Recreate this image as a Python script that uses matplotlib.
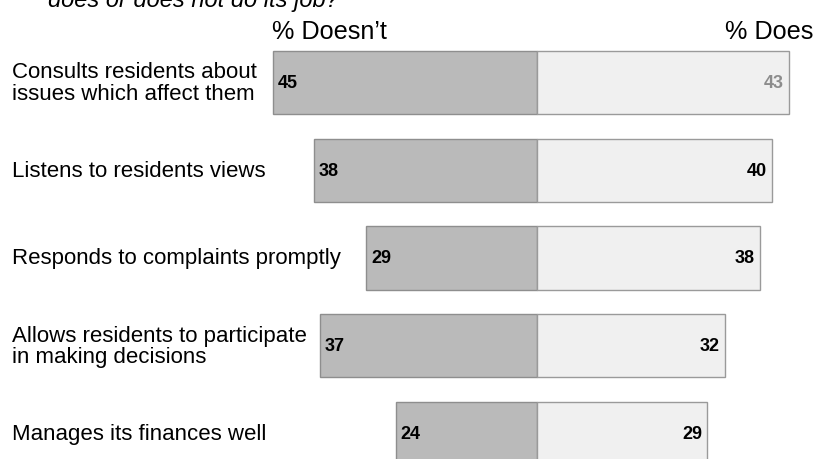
import matplotlib
matplotlib.use("Agg")
import matplotlib.pyplot as plt
from matplotlib.transforms import blended_transform_factory

plt.rcParams['font.family'] = ['Liberation Sans', 'DejaVu Sans']

categories = [
    "Consults residents about\nissues which affect them",
    "Listens to residents views",
    "Responds to complaints promptly",
    "Allows residents to participate\nin making decisions",
    "Manages its finances well",
]
doesnt = [45, 38, 29, 37, 24]
does = [43, 40, 38, 32, 29]
does_label_colors = ["#8c8c8c", "black", "black", "black", "black"]

W, H = 816, 460
fig = plt.figure(figsize=(W / 100, H / 100), dpi=100)
ax = fig.add_axes([0, 0, 1, 1])

# scale: 0 at x=536.7 px, 5.87 px per percentage point
px_per_unit = 5.87
x0 = 536.7
ax.set_xlim(-x0 / px_per_unit, (W - x0) / px_per_unit)
pitch = 87.8
y_first = 83.4
ax.set_ylim((H - y_first) / pitch, -y_first / pitch)
ax.axis("off")

ypos = list(range(len(categories)))
bar_h = 0.72
ax.barh(ypos, [-v for v in doesnt], height=bar_h, color="#bababa",
        edgecolor="#8e8e8e", linewidth=1.0)
ax.barh(ypos, does, height=bar_h, color="#f0f0f0",
        edgecolor="#9a9a9a", linewidth=1.0)

pad = 5.0 / px_per_unit
for y, a, b, c in zip(ypos, doesnt, does, does_label_colors):
    ax.text(-a + pad, y, str(a), ha="left", va="center", fontsize=13,
            fontweight="bold", color="black")
    ax.text(b - pad, y, str(b), ha="right", va="center", fontsize=13,
            fontweight="bold", color=c)

lab_tr = blended_transform_factory(fig.transFigure, ax.transData)
for y, lab in zip(ypos, categories):
    ax.text(12 / W, y, lab, transform=lab_tr, ha="left", va="center",
            fontsize=16, linespacing=1.02, color="black")

fig.text(272 / W, 1 - 39 / H, "% Doesn\u2019t", ha="left", va="baseline",
         fontsize=18.2, color="black")
fig.text(813 / W, 1 - 39 / H, "% Does", ha="right", va="baseline",
         fontsize=18.2, color="black")
fig.text(48 / W, 1 - 7 / H, "does or does not do its job?", ha="left",
         va="baseline", fontsize=17, style="italic", color="black")

fig.savefig("out.png", dpi=100)
